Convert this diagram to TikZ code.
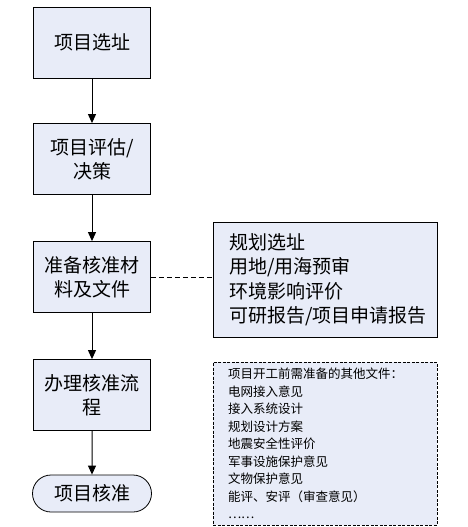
\documentclass[tikz,border=0pt]{standalone}
\usepackage{fontspec}
\setmainfont{Noto Sans CJK SC}
\usepackage{tikz}
\usetikzlibrary{arrows.meta}
\usetikzlibrary{shapes.misc}
\definecolor{boxfill}{RGB}{232,236,248}
\tikzset{stepbox/.style={rectangle,draw,fill=boxfill,line width=0.8pt,minimum width=117pt,minimum height=71pt,inner sep=0pt,align=center,font=\fontsize{19}{24}\selectfont},
         endbox/.style={rounded rectangle,draw,fill=boxfill,line width=0.8pt,minimum width=119pt,minimum height=37pt,inner sep=0pt,font=\fontsize{19}{24}\selectfont},
         listbox/.style={rectangle,draw,fill=boxfill,line width=0.8pt,minimum width=224pt,minimum height=115pt,inner xsep=16pt,text width=192pt,align=left,font=\fontsize{19}{24.5}\selectfont},
         docbox/.style={rectangle,draw,dashed,dash pattern=on 3pt off 1.5pt,fill=boxfill,line width=0.8pt,minimum width=224pt,minimum height=163pt,inner xsep=15pt,text width=194pt,align=left,font=\fontsize{12.5}{17.5}\selectfont},
         arr/.style={line width=1pt,-{Triangle[length=9pt,width=8pt]}},
         link/.style={line width=0.8pt,dashed,dash pattern=on 5pt off 3pt}
         }

\begin{document}
\begin{tikzpicture}[x=1pt,y=-1pt]
        \useasboundingbox (0,0) rectangle (468,527);
        \node[stepbox] (S1) at (92,42.5) {项目选址};
        \node[stepbox] (S2) at (92,159) {项目评估/\\决策};
        \node[stepbox] (S3) at (92,277) {准备核准材\\料及文件};
        \node[stepbox] (S4) at (92,395) {办理核准流\\程};
        \node[endbox] (E1) at (92,493.5) {项目核准};
        \node[listbox] (R1) at (325,279.5) {规划选址\\用地/用海预审\\环境影响评价\\可研报告/项目申请报告};
        \node[docbox] (R2) at (325,443.5) {项目开工前需准备的其他文件：\\电网接入意见\\接入系统设计\\规划设计方案\\地震安全性评价\\军事设施保护意见\\文物保护意见\\能评、安评（审查意见）\\……};
        \draw[arr] (S1)--(S2);
        \draw[arr] (S2)--(S3);
        \draw[arr] (S3)--(S4);
        \draw[arr] (S4)--(E1);
        \draw[link] (S3.east)--(S3.east -| R1.west);

\end{tikzpicture}
\end{document}
